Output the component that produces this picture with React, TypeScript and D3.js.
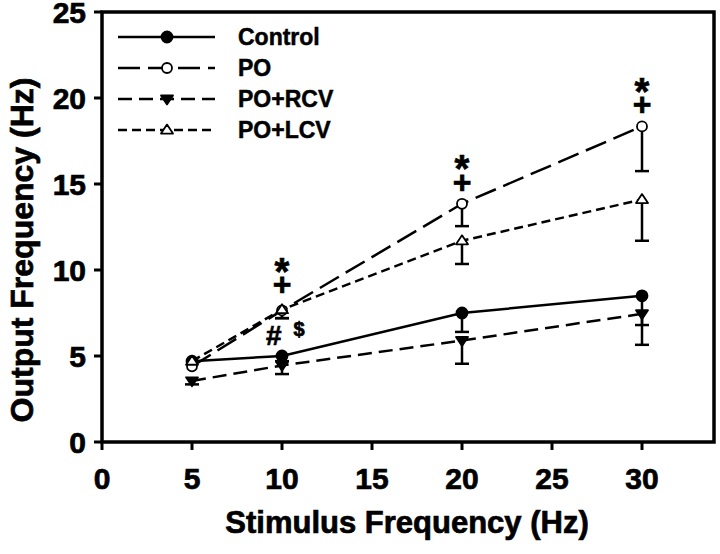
import React from "react";
import * as d3 from "d3";

const stimulus = [5, 10, 20, 30];
const controlMean = [4.7, 5.0, 7.5, 8.5];
const controlErr = [0, 0.3, 1.1, 1.7];
const poMean = [4.4, 7.65, 13.85, 18.35];
const poErr = [0, 0.45, 1.3, 2.6];
const rcvMean = [3.55, 4.45, 5.9, 7.45];
const rcvErr = [0.2, 0.5, 1.35, 1.8];
const lcvMean = [4.7, 7.7, 11.7, 14.1];
const lcvErr = [0, 0.5, 1.35, 2.4];
const xTicks = [0, 5, 10, 15, 20, 25, 30];
const yTicks = [0, 5, 10, 15, 20, 25];
const seriesNames = ["Control", "PO", "PO+RCV", "PO+LCV"];
// significance marks
const markX = [10, 10, 20, 20, 30, 30];
const markY = [10.7, 9.2, 16.7, 15.15, 21.2, 19.7];
const markText = ["*", "+", "*", "+", "*", "+"];
const otherMarkX = [9.55, 10.95];
const otherMarkY = [6.2, 6.6];
const otherMarkText = ["#", "$"];

const W = 720, H = 554;
const left = 102, right = 714, top = 12, bottom = 442;
const FONT = "'Liberation Sans', Arial, sans-serif";

const x = d3.scaleLinear().domain([0, 34]).range([left, right]);
const y = d3.scaleLinear().domain([0, 25]).range([bottom, top]);

type Marker = "filledCircle" | "openCircle" | "filledTriDown" | "openTriUp";

const series: { name: string; mean: number[]; err: number[]; dash: string; marker: Marker }[] = [
  { name: seriesNames[0], mean: controlMean, err: controlErr, dash: "none", marker: "filledCircle" },
  { name: seriesNames[1], mean: poMean, err: poErr, dash: "22,8", marker: "openCircle" },
  { name: seriesNames[2], mean: rcvMean, err: rcvErr, dash: "14,7", marker: "filledTriDown" },
  { name: seriesNames[3], mean: lcvMean, err: lcvErr, dash: "9,5", marker: "openTriUp" },
];

function MarkerShape({ type, cx, cy }: { type: Marker; cx: number; cy: number }) {
  const sw = 1.8;
  if (type === "filledCircle") return <circle cx={cx} cy={cy} r={5.5} fill="#000" stroke="#000" strokeWidth={sw} />;
  if (type === "openCircle") return <circle cx={cx} cy={cy} r={5} fill="#fff" stroke="#000" strokeWidth={sw} />;
  const s = 6;
  if (type === "filledTriDown")
    return <path d={`M${cx - s},${cy - s * 0.6} L${cx + s},${cy - s * 0.6} L${cx},${cy + s * 0.9} Z`} fill="#000" stroke="#000" strokeWidth={sw} strokeLinejoin="round" />;
  return <path d={`M${cx - s},${cy + s * 0.6} L${cx + s},${cy + s * 0.6} L${cx},${cy - s * 0.9} Z`} fill="#fff" stroke="#000" strokeWidth={sw} strokeLinejoin="round" />;
}

const heavy = { stroke: "#000", strokeWidth: 0.7, fontWeight: "bold" as const };

export default function App() {
  const line = d3
    .line<[number, number]>()
    .x((d) => x(d[0]))
    .y((d) => y(d[1]));

  return (
    <svg width={W} height={H} style={{ position: "absolute", left: 0, top: 0, background: "#fff" }} fontFamily={FONT}>
      <rect x={0} y={0} width={W} height={H} fill="#fff" />
      {series.map((s) =>
        stimulus.map((sx, i) =>
          s.err[i] > 0 ? (
            <g key={s.name + "e" + i} stroke="#000" strokeWidth={2.5}>
              <line x1={x(sx)} x2={x(sx)} y1={y(s.mean[i])} y2={y(s.mean[i] - s.err[i])} />
              <line x1={x(sx) - 7} x2={x(sx) + 7} y1={y(s.mean[i] - s.err[i])} y2={y(s.mean[i] - s.err[i])} />
            </g>
          ) : null
        )
      )}
      {series.map((s) => (
        <path
          key={s.name}
          d={line(stimulus.map((sx, i) => [sx, s.mean[i]] as [number, number])) || ""}
          fill="none"
          stroke="#000"
          strokeWidth={2.5}
          strokeDasharray={s.dash}
        />
      ))}
      {series.map((s) =>
        stimulus.map((sx, i) => <MarkerShape key={s.name + "m" + i} type={s.marker} cx={x(sx)} cy={y(s.mean[i])} />)
      )}
      <rect x={left} y={top} width={right - left} height={bottom - top} fill="none" stroke="#000" strokeWidth={3.5} />
      {xTicks.map((t) => (
        <g key={"xt" + t}>
          <line x1={x(t)} x2={x(t)} y1={bottom} y2={bottom + 8} stroke="#000" strokeWidth={3} />
          <text x={x(t)} y={bottom + 47} textAnchor="middle" fontSize={30} {...heavy}>
            {t}
          </text>
        </g>
      ))}
      {yTicks.map((t) => (
        <g key={"yt" + t}>
          <line x1={left - 8} x2={left} y1={y(t)} y2={y(t)} stroke="#000" strokeWidth={3} />
          <text x={left - 16} y={y(t)} dy="0.36em" textAnchor="end" fontSize={30} {...heavy}>
            {t}
          </text>
        </g>
      ))}
      <text x={407} y={533} textAnchor="middle" fontSize={31} {...heavy}>
        Stimulus Frequency (Hz)
      </text>
      <text transform={`translate(33,250) rotate(-90)`} textAnchor="middle" fontSize={32} {...heavy}>
        Output Frequency (Hz)
      </text>
      {series.map((s, i) => {
        const ly = 37 + i * 31;
        return (
          <g key={"lg" + s.name}>
            <line x1={118} x2={215} y1={ly} y2={ly} stroke="#000" strokeWidth={2.5} strokeDasharray={s.dash} />
            <MarkerShape type={s.marker} cx={167} cy={ly} />
            <text x={238} y={ly} dy="0.36em" fontSize={23} {...heavy} strokeWidth={0.5}>
              {s.name}
            </text>
          </g>
        );
      })}
      {markText.map((t, i) => (
        <text key={"mk" + i} x={x(markX[i])} y={y(markY[i])} dy={t === "*" ? "0.72em" : "0.36em"} textAnchor="middle" fontSize={t === "*" ? 38 : 32} {...heavy}>
          {t}
        </text>
      ))}
      {otherMarkText.map((t, i) => (
        <text key={"om" + i} x={x(otherMarkX[i])} y={y(otherMarkY[i])} dy="0.36em" textAnchor="middle" fontSize={t === "#" ? 28 : 20} {...heavy}>
          {t}
        </text>
      ))}
    </svg>
  );
}
